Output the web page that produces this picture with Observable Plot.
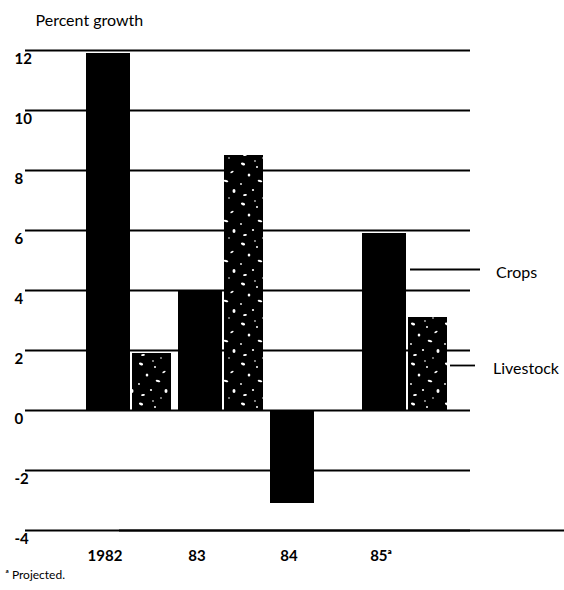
<!DOCTYPE html>
<html>
<head>
<meta charset="utf-8">
<script src="https://cdn.jsdelivr.net/npm/d3@7"></script>
<script src="https://cdn.jsdelivr.net/npm/@observablehq/plot@0.6"></script>
<style>
  html, body { margin: 0; padding: 0; background: #fff; }
  #chart svg { display: block; }
</style>
</head>
<body>
<div id="chart"></div>
<script>
// ---- data ----
const years = ["1982", "83", "84", "85ᵃ"];
const crops = [11.9, 4.0, -3.1, 5.9];
const livestock = [1.9, 8.5, 0, 3.1];
const yTicks = [12, 10, 8, 6, 4, 2, 0, -2, -4];
const seriesLabels = ["Crops", "Livestock"];
const seriesLabelY = [4.7, 1.5];
const titleText = "Percent growth";
const footnoteText = "ᵃ Projected.";

const data = years.map((year, i) => ({year, crops: crops[i], livestock: livestock[i]}));
const lastYear = years[years.length - 1];
const font = "Lato, 'Open Sans', sans-serif";

const chart = Plot.plot({
  width: 564,
  height: 590,
  marginLeft: 25,
  marginRight: 94,
  marginTop: 50,
  marginBottom: 60,
  style: {background: "#fff", fontFamily: font, color: "#000"},
  x: {domain: years, paddingInner: 0.08, paddingOuter: 0.45, align: 0.72, axis: null},
  y: {domain: [-4, 12], axis: null},
  marks: [
    // grid lines
    Plot.ruleY(yTicks, {stroke: "#000", strokeWidth: 1.8}),
    Plot.ruleY([-4], {stroke: "#000", strokeWidth: 1.8, dx: 94}),
    // bars
    Plot.barY(data, {x: "year", y: "crops", fill: "#000", insetRight: 41}),
    Plot.barY(data.filter(d => d.livestock !== 0), {x: "year", y: "livestock", fill: "url(#speckle)", insetLeft: 46}),
    // y tick labels
    Plot.text(yTicks, {y: d => d, text: d => String(d), frameAnchor: "left", textAnchor: "start", lineAnchor: "middle", dx: -11, dy: 9, fontSize: 15, fontWeight: "bold"}),
    // x labels
    Plot.text(years, {x: d => d, text: d => d, frameAnchor: "bottom", lineAnchor: "middle", dy: 26, dx: -24, fontSize: 15, fontWeight: "bold"}),
    // series leader lines and labels
    Plot.tickY([seriesLabelY[0]], {x: () => lastYear, y: d => d, stroke: "#000", strokeWidth: 1.8, insetLeft: 48, insetRight: -33}),
    Plot.tickY([seriesLabelY[1]], {x: () => lastYear, y: d => d, stroke: "#000", strokeWidth: 1.8, insetLeft: 88, insetRight: -28}),
    Plot.text([0], {x: () => lastYear, y: () => seriesLabelY[0], text: () => seriesLabels[0], textAnchor: "start", lineAnchor: "middle", dx: 91, dy: 3, fontSize: 16}),
    Plot.text([0], {x: () => lastYear, y: () => seriesLabelY[1], text: () => seriesLabels[1], textAnchor: "start", lineAnchor: "middle", dx: 88, dy: 3, fontSize: 16}),
    // title and footnote
    Plot.text([titleText], {text: d => d, frameAnchor: "top-left", textAnchor: "start", lineAnchor: "middle", dx: 10, dy: -30, fontSize: 16}),
    Plot.text([footnoteText], {text: d => d, frameAnchor: "bottom-left", textAnchor: "start", lineAnchor: "middle", dx: -20, dy: 45, fontSize: 12})
  ]
});

// speckled texture for the livestock bars (irregular white flecks on black)
const svg = d3.select(chart.tagName.toLowerCase() === "svg" ? chart : chart.querySelector("svg"));
const pat = svg.insert("defs", ":first-child")
  .append("pattern")
  .attr("id", "speckle")
  .attr("patternUnits", "userSpaceOnUse")
  .attr("width", 34)
  .attr("height", 40);
pat.append("rect").attr("width", 34).attr("height", 40).attr("fill", "#000");
const specks = [
  [5, 4, 2.2, 1.3, 20], [19, 7, 1.0, 1.0, 0], [28, 12, 1.8, 0.9, -30], [11, 15, 1.3, 1.6, 0],
  [3, 24, 0.9, 0.9, 0], [22, 21, 2.4, 1.0, 15], [15, 30, 1.1, 1.1, 0], [30, 31, 1.5, 2.0, 0],
  [7, 35, 2.0, 0.9, -10], [25, 38, 0.8, 0.8, 0], [17, 1, 0.9, 0.7, 0]
];
for (const [cx, cy, rx, ry, rot] of specks) {
  pat.append("ellipse")
    .attr("cx", cx).attr("cy", cy).attr("rx", rx).attr("ry", ry)
    .attr("transform", `rotate(${rot} ${cx} ${cy})`)
    .attr("fill", "#fff");
}

document.getElementById("chart").appendChild(chart);
</script>
</body>
</html>
